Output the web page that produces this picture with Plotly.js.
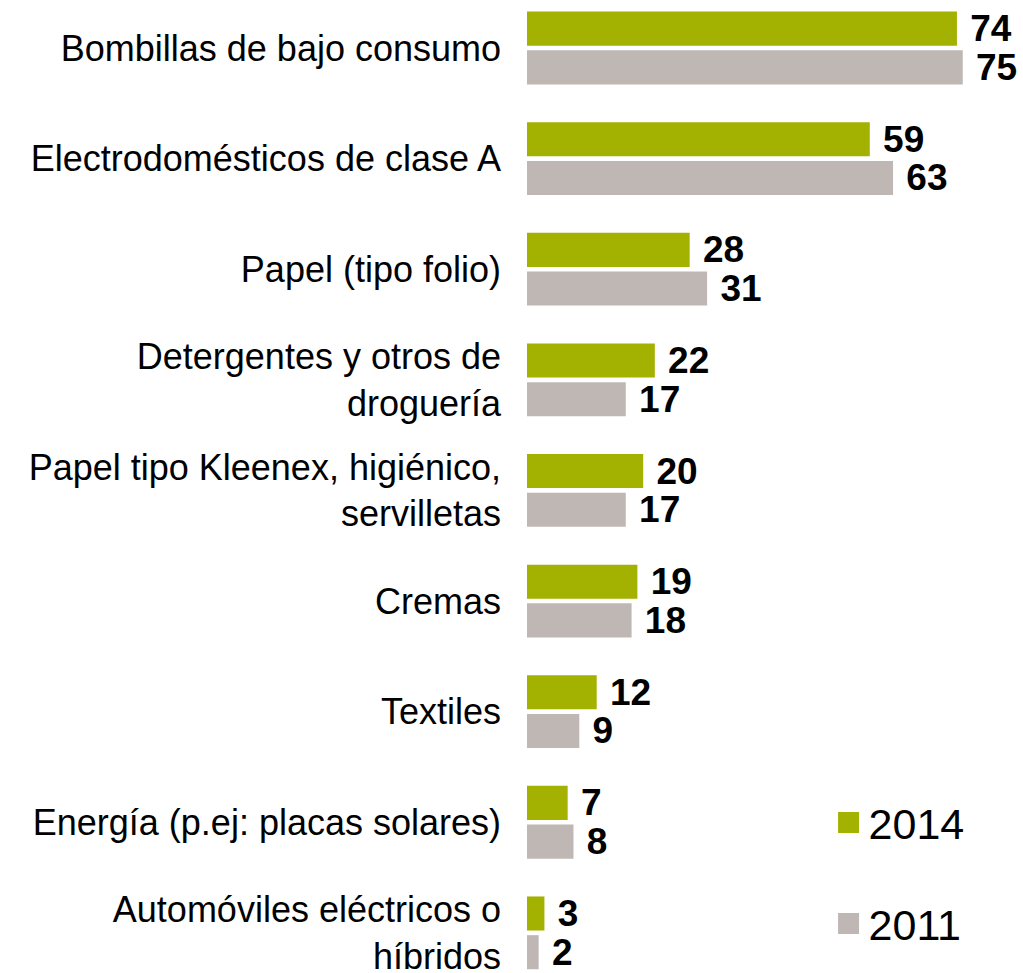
<!DOCTYPE html>
<html>
<head>
<meta charset="utf-8">
<script src="https://cdn.plot.ly/plotly-3.0.1.min.js"></script>
<style>html,body{margin:0;padding:0;background:#fff;}</style>
</head>
<body>
<div id="chart" style="width:1023px;height:973px;"></div>
<script>
const categories = [
  "Bombillas de bajo consumo",
  "Electrodomésticos de clase A",
  "Papel (tipo folio)",
  "Detergentes y otros de<br>droguería",
  "Papel tipo Kleenex, higiénico,<br>servilletas",
  "Cremas",
  "Textiles",
  "Energía (p.ej: placas solares)",
  "Automóviles eléctricos o<br>híbridos"
];
const values2014 = [74, 59, 28, 22, 20, 19, 12, 7, 3];
const values2011 = [75, 63, 31, 17, 17, 18, 9, 8, 2];
const seriesNames = ["2014", "2011"];
const seriesColors = ["#A3B100", "#BFB7B4"];

const font = "Liberation Sans, Arial, sans-serif";
const labelFont = {family: font, size: 37, color: "#000"};

function barTrace(vals, i) {
  return {
    type: "bar", orientation: "h",
    x: vals, y: categories,
    name: seriesNames[i],
    marker: {color: seriesColors[i], line: {width: 0}},
    text: vals.map(v => "\u00a0<b>" + v + "</b>"),
    texttemplate: "%{text}",
    textposition: "outside",
    constraintext: "none",
    cliponaxis: false,
    textfont: labelFont,
    showlegend: false,
    hoverinfo: "x+y"
  };
}
function legendTrace(i) {
  return {
    type: "scatter", mode: "markers",
    x: [null], y: [null],
    name: seriesNames[i],
    legendgroup: "g" + i,
    marker: {symbol: "square", size: 22, color: seriesColors[i], line: {width: 5, color: seriesColors[i]}},
    showlegend: true
  };
}

const data = [barTrace(values2014, 0), barTrace(values2011, 1), legendTrace(0), legendTrace(1)];

const layout = {
  width: 1023, height: 973,
  margin: {l: 527, r: 0, t: 0, b: 0, pad: 0},
  paper_bgcolor: "#fff", plot_bgcolor: "#fff",
  barmode: "group", bargap: 0.3, bargroupgap: 0.12,
  showlegend: true,
  legend: {
    x: 0.608, xanchor: "left", y: 0.19, yanchor: "top",
    font: {family: font, size: 43, color: "#000"},
    tracegroupgap: 42, bgcolor: "rgba(0,0,0,0)",
    itemsizing: "trace"
  },
  xaxis: {range: [0, 85.37], visible: false, fixedrange: true},
  yaxis: {
    type: "category", categoryorder: "array", categoryarray: categories,
    range: [8.363, -0.434], autorange: false,
    showgrid: false, zeroline: false, showline: false, ticks: "",
    tickfont: {family: font, size: 36, color: "#000"},
    ticklabelstandoff: 25, automargin: false, fixedrange: true
  },
  font: {family: font}
};

Plotly.newPlot("chart", data, layout, {displayModeBar: false, staticPlot: true});
</script>
</body>
</html>
